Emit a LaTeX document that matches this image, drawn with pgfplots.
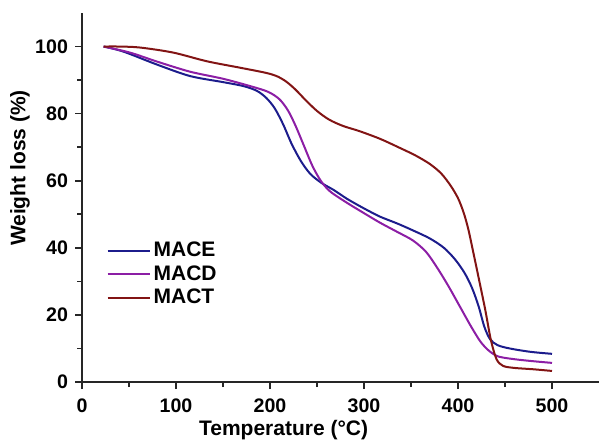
\documentclass[border=0pt]{standalone}
\usepackage{fontspec}
\setmainfont{Liberation Sans}
\usepackage{pgfplots}
\pgfplotsset{compat=1.18}
\definecolor{cmace}{RGB}{28,28,140}
\definecolor{cmacd}{RGB}{140,30,165}
\definecolor{cmact}{RGB}{130,20,20}
\begin{document}
\begin{tikzpicture}
\begin{axis}[
  scale only axis, clip=false,
  width=258.5pt, height=184.5pt,
  xmin=0, xmax=550, ymin=0, ymax=110,
  axis x line*=bottom, axis y line*=left,
  axis line style={line width=1pt, black!85},
  xtick={0,100,200,300,400,500},
  ytick={0,20,40,60,80,100},
  minor x tick num=1, minor y tick num=1,
  tick align=outside,
  major tick length=3.5pt, minor tick length=2.5pt,
  every tick/.style={line width=0.8pt, black!85},
  /pgf/number format/assume math mode=true,
  ticklabel style={font=\bfseries\fontsize{9.8}{10}\selectfont},
  xticklabel style={yshift=-1.5pt},
  xlabel={Temperature (°C)},
  ylabel={Weight loss (\%)},
  label style={font=\bfseries\fontsize{10.5}{12}\selectfont},
  xlabel style={at={(0.39,-0.13)}, anchor=center},
  ylabel style={at={(-0.12,0.58)}, anchor=center},
  legend style={draw=none, fill=none, at={(0.035,0.40)}, anchor=north west,
    font=\bfseries\fontsize{10.5}{11}\selectfont, row sep=0pt,
    nodes={inner sep=1.5pt}},
  legend cell align=left,
  legend image code/.code={\draw[#1] (0cm,0cm) -- (0.74cm,0cm);},
  every axis plot/.append style={line width=1pt, smooth, tension=0.5},
]
\path (rel axis cs:0,0) ++(-41pt,-29.5pt);
\path (rel axis cs:1,1) ++(1pt,6.5pt);
\addplot[cmace] coordinates {
(23,100) (44,98.5) (80,94.6) (115,91.2) (150,89.4) (172,88.2) (186,86.8) (196,84.7)
(205,81.6) (214,76.8) (223,71.0) (233,65.8) (243,62.0) (255,59.3) (268,57.2) (282,54.6)
(299,51.9) (317,49.3) (335,47.3) (352,45.2) (370,42.8) (385,40.0) (397,36.5) (407,32.5)
(415,28.0) (422,22.5) (428,16.5) (434,12.8) (442,11.0) (455,10.0) (477,9.0) (500,8.4)
};
\addlegendentry{MACE}
\addplot[cmacd] coordinates {
(23,100) (51,98.2) (80,95.5) (115,92.5) (150,90.4) (179,88.2) (198,86.5) (210,84.3)
(219,81.0) (227,76.5) (236,70.5) (245,64.5) (254,60.0) (264,56.8) (282,53.4) (299,50.5)
(317,47.5) (335,44.8) (352,42.2) (366,38.8) (378,34.0) (390,28.5) (402,22.5) (414,16.5)
(424,12.0) (433,9.3) (443,7.6) (460,6.8) (480,6.2) (500,5.7)
};
\addlegendentry{MACD}
\addplot[cmact] coordinates {
(23,100) (40,100) (62,99.7) (97,98.2) (133,95.6) (168,93.7) (195,92.2) (207,91.2)
(217,89.6) (227,87.2) (238,84.0) (250,80.8) (263,78.2) (278,76.3) (295,74.8) (317,72.5)
(338,69.8) (355,67.5) (370,65.0) (382,62.2) (392,58.6) (400,54.8) (406,50.5) (411,45.5)
(416,39.0) (422,31.0) (429,21.5) (435,12.5) (441,6.8) (448,4.8) (460,4.2) (480,3.8) (500,3.3)
};
\addlegendentry{MACT}
\end{axis}
\end{tikzpicture}
\end{document}
